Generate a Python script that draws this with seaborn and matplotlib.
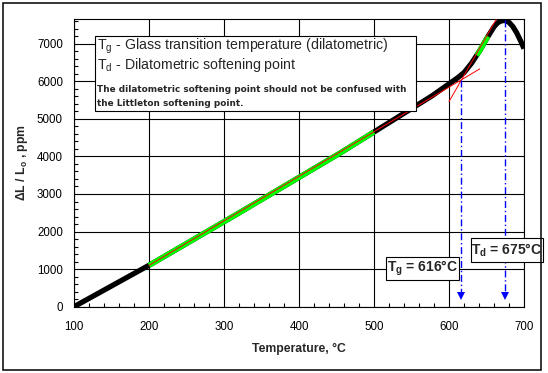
import matplotlib
matplotlib.use("Agg")
import matplotlib.pyplot as plt
import numpy as np
import pandas as pd
import seaborn as sns
from matplotlib.patches import Rectangle
from matplotlib.ticker import MultipleLocator

# dilatometric curve
temp_c = [100, 120, 140, 160, 180, 200, 250, 300, 350, 400, 450, 500, 525, 550,
          575, 600, 610, 620, 630, 640, 650, 660, 665, 670, 675, 680, 685, 690,
          695, 700]
dl_ppm = [0, 220, 440, 660, 880, 1100, 1680, 2260, 2850, 3440, 4030, 4650, 4960,
          5270, 5580, 5930, 6070, 6230, 6480, 6780, 7130, 7450, 7560, 7610, 7620,
          7570, 7460, 7300, 7100, 6870]

# fitting ranges (green) and fitted lines (red)
fit_low_range = (200, 500)
fit_high_range = (637, 652)
line_low_x = [200, 641]
line_low_y = [1100, 6330]
line_high_x = [600, 663]
line_high_y = [5460, 7650]

tg, td = 616, 675
tg_top, td_top = 6030, 7620
arrow_bottom = 180

ylim_top = 7650

sns.set_style("white")
plt.rcParams["font.family"] = ["Liberation Sans", "DejaVu Sans"]
plt.rcParams["mathtext.fontset"] = "custom"
plt.rcParams["mathtext.rm"] = "Liberation Sans"
plt.rcParams["mathtext.bf"] = "Liberation Sans:bold"

W, H = 548, 373
fig = plt.figure(figsize=(W / 100, H / 100), dpi=100)
ax = fig.add_axes([74 / W, 1 - 306.7 / H, 450 / W, 287.4 / H])


def px(x, y):
    """pixel position (from top-left) -> figure fraction"""
    return x / W, 1 - y / H


df = pd.DataFrame({"temp": temp_c, "dl": dl_ppm})
fine = pd.DataFrame({"temp": np.arange(100, 700.5, 1.0)})
fine["dl"] = np.interp(fine["temp"], df["temp"], df["dl"])

sns.lineplot(data=fine, x="temp", y="dl", color="black", lw=3.8, ax=ax,
             solid_capstyle="butt", zorder=3)
for lo, hi in (fit_low_range, fit_high_range):
    seg = fine[(fine["temp"] >= lo) & (fine["temp"] <= hi)]
    sns.lineplot(data=seg, x="temp", y="dl", color="#00ff00", lw=3.8, ax=ax,
                 solid_capstyle="butt", zorder=4)

ax.plot(line_low_x, line_low_y, color="red", lw=0.7, zorder=5)
ax.plot(line_high_x, line_high_y, color="red", lw=0.7, zorder=5)

for t, top in ((tg, tg_top), (td, td_top)):
    ax.plot([t, t], [top, arrow_bottom + 150], color="blue", lw=1.0,
            ls=(0, (5, 2, 1, 2)), zorder=6)
    ax.plot([t], [arrow_bottom + 100], marker="v", color="blue", ms=6, zorder=6,
            markeredgewidth=0)

ax.set_xlim(100, 700)
ax.set_ylim(0, ylim_top)
ax.xaxis.set_major_locator(MultipleLocator(100))
ax.xaxis.set_minor_locator(MultipleLocator(20))
ax.yaxis.set_major_locator(MultipleLocator(1000))
ax.yaxis.set_minor_locator(MultipleLocator(200))
ax.grid(True, which="major", color="black", lw=0.8)
ax.tick_params(which="both", direction="in", colors="black", labelsize=8.3,
               top=False, right=False)
ax.tick_params(which="major", length=0)
ax.tick_params(which="minor", length=3, width=0.8, bottom=True, left=True)
ax.tick_params(axis="x", pad=10)
ax.tick_params(axis="y", pad=8)
for s in ax.spines.values():
    s.set_color("black")
    s.set_linewidth(0.8)

ax.set_xlabel("Temperature, °C", fontsize=8.8, fontweight="bold")
ax.set_ylabel(r"ΔL / L$_\mathbf{o}$ , ppm", fontsize=8.8, fontweight="bold")
ax.xaxis.set_label_coords(0.5, -0.125)
ax.yaxis.set_label_coords(-0.098, 0.5)

# legend-like text box
x0, y0 = px(95, 36)
x1, y1 = px(416, 111)
fig.add_artist(Rectangle((x0, y1), x1 - x0, y0 - y1, transform=fig.transFigure,
                         facecolor="white", edgecolor="black", lw=0.8, zorder=10))
big = dict(fontsize=10.2, va="center", ha="left", zorder=11)
fig.text(*px(97, 46), r"T$_\mathregular{g}$ - Glass transition temperature (dilatometric)", **big)
fig.text(*px(97, 65), r"T$_\mathregular{d}$ - Dilatometric softening point", **big)
small = dict(fontsize=6.4, fontweight="bold", family="DejaVu Sans", va="center",
             ha="left", zorder=11)
fig.text(*px(97, 89.5), "The dilatometric softening point should not be confused with", **small)
fig.text(*px(97, 104), "the Littleton softening point.", **small)

# value boxes
for (bx0, by0, bx1, by1), label in (((386, 257, 459, 280), r"T$_\mathregular{g}$ = 616°C"),
                                    ((471, 238, 543, 262), r"T$_\mathregular{d}$ = 675°C")):
    a0, a1 = px(bx0, by0)
    b0, b1 = px(bx1, by1)
    fig.add_artist(Rectangle((a0, b1), b0 - a0, a1 - b1, transform=fig.transFigure,
                             facecolor="white", edgecolor="black", lw=0.8, zorder=10))
    fig.text((a0 + b0) / 2, (a1 + b1) / 2, label, fontsize=10, fontweight="bold",
             ha="center", va="center", zorder=11)

# outer frame
f0, f1 = px(3, 3)
g0, g1 = px(541, 370)
fig.add_artist(Rectangle((f0, g1), g0 - f0, f1 - g1, transform=fig.transFigure,
                         fill=False, edgecolor="black", lw=1.1, zorder=12))

fig.savefig("out.png", dpi=100)
